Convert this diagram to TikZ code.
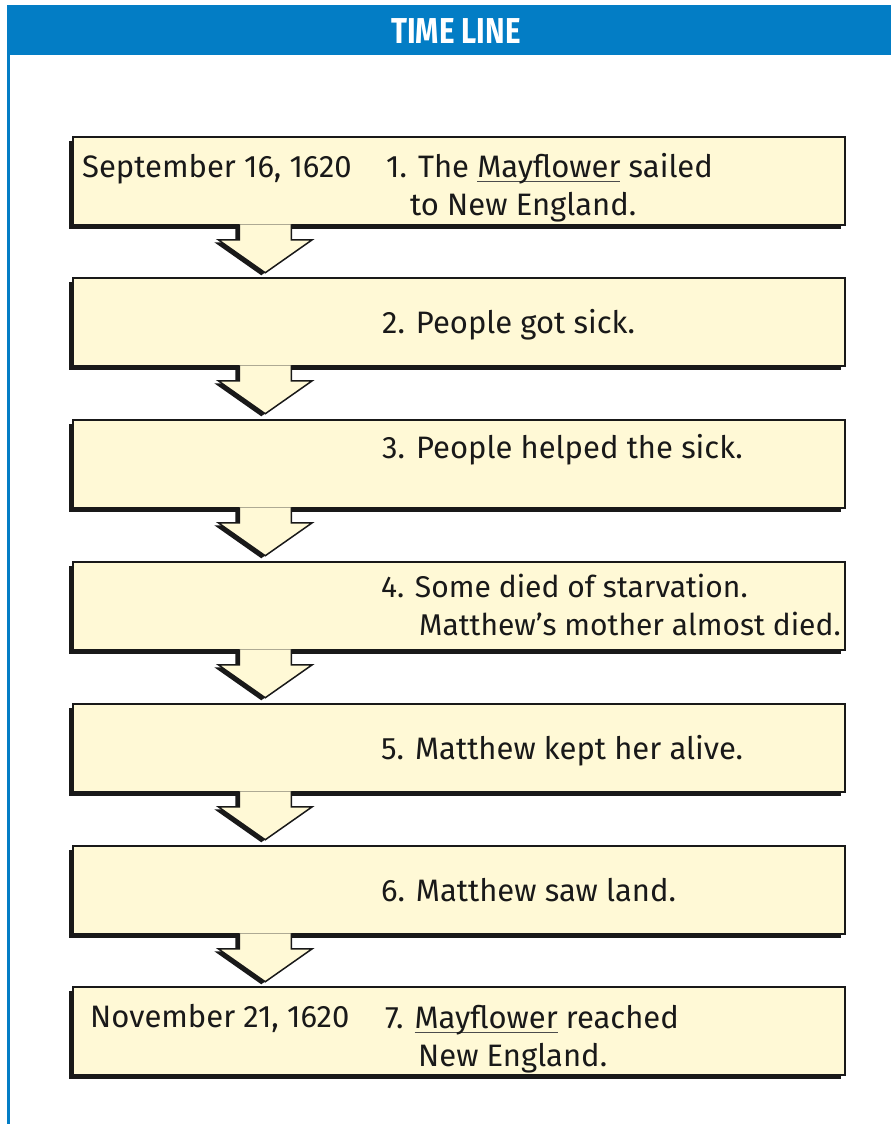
\documentclass[tikz,border=0pt]{standalone}
\usepackage{fontspec}
\setmainfont{Fira Sans}
\usetikzlibrary{shadows}

\definecolor{lineBlue}{RGB}{3, 125, 197}
\definecolor{noteYellow}{RGB}{255, 249, 214}

% underline that runs through the descenders, as in the reference
\newsavebox{\shipbox}
\newcommand{\shipname}[1]{\sbox{\shipbox}{#1}\rlap{\color{black!70}\rule[-5pt]{\wd\shipbox}{1pt}}\usebox{\shipbox}}

% block arrow hanging under a box (shadow first, then the arrow)
\newcommand{\flowarrow}[1]{%
    \fill[arrowShadow] ([shift={(163,2.5)}]#1.south west) -- ++(0,14) -- ++(-21,0) -- ++(47,33) -- ++(47,-33) -- ++(-21,0) -- ++(0,-14) -- cycle;
    \filldraw[arrowBody] ([shift={(167,-1.5)}]#1.south west) -- ++(0,15.5) -- ++(-21,0) -- ++(47,33) -- ++(47,-33) -- ++(-21,0) -- ++(0,-15.5);
}

\begin{document}
\begin{tikzpicture}[x=1pt,y=-1pt]
    % --- STYLES ---
    \tikzset{
        timeBox/.style={rectangle, draw=black!90, fill=noteYellow, line width=1.5pt, minimum width=772pt, minimum height=88pt, inner sep=0pt,
            drop shadow={shadow xshift=-4pt, shadow yshift=-4pt, opacity=1, fill=black!90}},
        dateText/.style={anchor=base west, inner sep=0pt, font=\fontsize{31}{38}\selectfont, text=black!90},
        eventText/.style={anchor=base west, inner sep=0pt, align=left, font=\fontsize{31}{38}\selectfont, text=black!90},
        arrowBody/.style={fill=noteYellow, draw=black!90, line width=1.5pt, line join=miter},
        arrowShadow/.style={fill=black!90}
    }

    % --- PAGE ---
    \path[fill=white, use as bounding box] (0,0) rectangle (891,1124);
    \fill[lineBlue] (7,5) rectangle (891,55);
    \fill[lineBlue] (7,55) rectangle (10,1124);
    \node[text=white, font=\fontsize{36}{36}\selectfont\bfseries] (title) at (456,31) {\scalebox{0.82}[1]{TIME LINE}};

    % --- BOXES ---
    \node[timeBox] (b1) at (459,181) {};
    \node[timeBox] (b2) at (459,322) {};
    \node[timeBox] (b3) at (459,464) {};
    \node[timeBox] (b4) at (459,606) {};
    \node[timeBox] (b5) at (459,748) {};
    \node[timeBox] (b6) at (459,890) {};
    \node[timeBox] (b7) at (459,1031) {};

    % --- ARROWS ---
    \flowarrow{b1}
    \flowarrow{b2}
    \flowarrow{b3}
    \flowarrow{b4}
    \flowarrow{b5}
    \flowarrow{b6}

    % --- TEXTS ---
    % (two-line texts sit on the baseline of their last line)
    \node[dateText] (d1) at (82,177) {September 16, 1620};
    \node[eventText] (e1) at (386,215) {1. The \shipname{Mayflower} sailed\\\hspace*{24pt}to New England.};
    \node[eventText] (e2) at (382,333) {2. People got sick.};
    \node[eventText] (e3) at (382,458) {3. People helped the sick.};
    \node[eventText, font=\fontsize{30}{38}\selectfont] (e4) at (381,635) {4. Some died of starvation.\\\hspace*{38pt}Matthew’s mother almost died.};
    \node[eventText] (e5) at (381,759) {5. Matthew kept her alive.};
    \node[eventText] (e6) at (381,901) {6. Matthew saw land.};
    \node[dateText] (d7) at (90,1027) {November 21, 1620};
    \node[eventText] (e7) at (385,1066) {7. \shipname{Mayflower} reached\\\hspace*{33pt}New England.};

\end{tikzpicture}
\end{document}
